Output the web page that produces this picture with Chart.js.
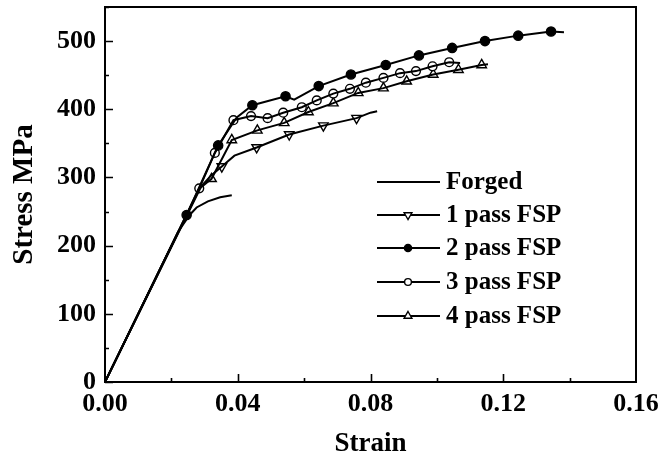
<!DOCTYPE html>
<html>
<head>
    <title>Stress Strain Curves</title>
    <script src="https://cdn.jsdelivr.net/npm/chart.js"></script>
    <style>
        body { margin: 0; background: #fff; }
        #wrap { width: 662px; height: 460px; }
    </style>
</head>
<body>
    <div id="wrap"><canvas id="ssChart" width="662" height="460"></canvas></div>

    <script>
        // values
        const forgedStrain = [0, 0.022, 0.0255, 0.0276, 0.031, 0.0347, 0.0382];
        const forgedStress = [0, 220, 245, 256, 265, 271, 274];

        const pass1Strain = [0, 0.029, 0.032, 0.0352, 0.039, 0.0457, 0.0555, 0.0658, 0.0758, 0.080, 0.082];
        const pass1Stress = [0, 287, 303, 316, 332, 344, 363, 376, 387, 395, 397];
        const pass1MarkStrain = [0.0352, 0.0457, 0.0555, 0.0658, 0.0758];
        const pass1MarkStress = [316, 344, 363, 376, 387];

        const pass2Strain = [0, 0.0246, 0.0341, 0.0397, 0.0444, 0.0544, 0.057, 0.0644, 0.0741, 0.0846, 0.0946, 0.1046, 0.1145, 0.1245, 0.1344, 0.1383];
        const pass2Stress = [0, 245, 347, 388, 406, 419, 414, 434, 451, 465, 479, 490, 500, 508, 514, 513];
        const pass2MarkStrain = [0.0246, 0.0341, 0.0444, 0.0544, 0.0644, 0.0741, 0.0846, 0.0946, 0.1046, 0.1145, 0.1245, 0.1344];
        const pass2MarkStress = [245, 347, 406, 419, 434, 451, 465, 479, 490, 500, 508, 514];

        const pass3Strain = [0, 0.0284, 0.0331, 0.0387, 0.044, 0.049, 0.0537, 0.0593, 0.0638, 0.0688, 0.0738, 0.0786, 0.0839, 0.0889, 0.0937, 0.0987, 0.1037, 0.107];
        const pass3Stress = [0, 284, 336, 384, 390, 387, 395, 403, 413, 423, 430, 439, 446, 453, 456, 463, 469, 468];
        const pass3MarkStrain = [0.0284, 0.0331, 0.0387, 0.044, 0.049, 0.0537, 0.0593, 0.0638, 0.0688, 0.0738, 0.0786, 0.0839, 0.0889, 0.0937, 0.0987, 0.1037];
        const pass3MarkStress = [284, 336, 384, 390, 387, 395, 403, 413, 423, 430, 439, 446, 453, 456, 463, 469];

        const pass4Strain = [0, 0.0285, 0.0321, 0.0382, 0.0459, 0.054, 0.0613, 0.0688, 0.0763, 0.0839, 0.0909, 0.0989, 0.1065, 0.1135, 0.1154];
        const pass4Stress = [0, 284, 298, 355, 369, 380, 396, 409, 424, 431, 441, 451, 458, 465, 466];
        const pass4MarkStrain = [0.0321, 0.0382, 0.0459, 0.054, 0.0613, 0.0688, 0.0763, 0.0839, 0.0909, 0.0989, 0.1065, 0.1135];
        const pass4MarkStress = [298, 355, 369, 380, 396, 409, 424, 431, 441, 451, 458, 465];

        const seriesNames = ["Forged", "1 pass FSP", "2 pass FSP", "3 pass FSP", "4 pass FSP"];
        const xTicks = [0, 0.04, 0.08, 0.12, 0.16];
        const yTicks = [0, 100, 200, 300, 400, 500];

        const FONT = "'Liberation Serif', 'Times New Roman', serif";

        function pts(xs, ys) {
            return xs.map((x, i) => ({ x: x, y: ys[i] }));
        }

        // marker look per series (index into seriesNames)
        const markerStyle = [
            null,
            { pointStyle: "triangle", rotation: 180, radius: 5.5, fill: "#fff" },
            { pointStyle: "circle", rotation: 0, radius: 4.6, fill: "#000" },
            { pointStyle: "circle", rotation: 0, radius: 4.4, fill: "#fff" },
            { pointStyle: "triangle", rotation: 0, radius: 5.5, fill: "#fff" },
        ];

        function curve(data) {
            return {
                data: data,
                showLine: true,
                borderColor: "#000",
                borderWidth: 2,
                pointRadius: 0,
                tension: 0,
                fill: false,
            };
        }

        function marks(data, idx) {
            const m = markerStyle[idx];
            return {
                data: data,
                showLine: false,
                pointStyle: m.pointStyle,
                pointRotation: m.rotation,
                pointRadius: m.radius,
                pointBackgroundColor: m.fill,
                pointBorderColor: "#000",
                pointBorderWidth: 1.4,
            };
        }

        const datasets = [
            curve(pts(forgedStrain, forgedStress)),
            curve(pts(pass1Strain, pass1Stress)),
            curve(pts(pass2Strain, pass2Stress)),
            curve(pts(pass3Strain, pass3Stress)),
            curve(pts(pass4Strain, pass4Stress)),
            marks(pts(pass1MarkStrain, pass1MarkStress), 1),
            marks(pts(pass2MarkStrain, pass2MarkStress), 2),
            marks(pts(pass3MarkStrain, pass3MarkStress), 3),
            marks(pts(pass4MarkStrain, pass4MarkStress), 4),
        ];

        // frame, inward ticks and the legend
        const framePlugin = {
            id: "frame",
            afterDraw(chart) {
                const ctx = chart.ctx;
                const a = chart.chartArea;
                const xs = chart.scales.x, ys = chart.scales.y;
                ctx.save();
                ctx.strokeStyle = "#000";
                ctx.lineWidth = 2;
                ctx.strokeRect(a.left, a.top, a.right - a.left, a.bottom - a.top);

                ctx.lineWidth = 1.6;
                ctx.beginPath();
                for (let v = 0; v <= 550; v += 50) {
                    const y = Math.round(ys.getPixelForValue(v)) + 0.5;
                    const len = v % 100 === 0 ? 8 : 4;
                    ctx.moveTo(a.left, y);
                    ctx.lineTo(a.left + len, y);
                }
                for (let k = 1; k < 8; k++) {
                    const x = Math.round(xs.getPixelForValue(k * 0.02)) + 0.5;
                    const len = k % 2 === 0 ? 8 : 4;
                    ctx.moveTo(x, a.bottom);
                    ctx.lineTo(x, a.bottom - len);
                }
                ctx.stroke();

                // legend
                const rows = [182, 215, 248, 282, 316];
                ctx.font = "bold 25px " + FONT;
                ctx.textBaseline = "middle";
                ctx.textAlign = "left";
                ctx.fillStyle = "#000";
                seriesNames.forEach((name, i) => {
                    const y = rows[i];
                    ctx.lineWidth = 2;
                    ctx.beginPath();
                    ctx.moveTo(377, y);
                    ctx.lineTo(440, y);
                    ctx.stroke();
                    const m = markerStyle[i];
                    if (m) {
                        ctx.fillStyle = m.fill;
                        ctx.lineWidth = 1.4;
                        Chart.helpers.drawPoint(ctx, {
                            pointStyle: m.pointStyle,
                            rotation: m.rotation,
                            radius: m.radius - 1,
                            borderWidth: 1.4,
                        }, 408, y);
                    }
                    ctx.fillStyle = "#000";
                    ctx.fillText(name, 446, y + 1);
                });
                ctx.restore();
            },
        };

        const ctx = document.getElementById("ssChart").getContext("2d");
        const ssChart = new Chart(ctx, {
            type: "scatter",
            data: { datasets: datasets },
            plugins: [framePlugin],
            options: {
                responsive: false,
                animation: false,
                layout: { padding: { top: 7, right: 26, left: 0, bottom: 0 } },
                plugins: {
                    legend: { display: false },
                    tooltip: { enabled: false },
                },
                scales: {
                    x: {
                        type: "linear",
                        min: 0,
                        max: 0.16,
                        grid: { display: false, drawTicks: false },
                        border: { display: false },
                        afterBuildTicks: (s) => { s.ticks = xTicks.map(v => ({ value: v })); },
                        afterFit: (s) => { s.height = 78; s.paddingLeft = 0; s.paddingRight = 0; },
                        ticks: {
                            padding: 7,
                            color: "#000",
                            font: { family: FONT, size: 26, weight: "bold" },
                            maxRotation: 0,
                            callback: (v) => v.toFixed(2),
                        },
                        title: {
                            display: true,
                            text: "Strain",
                            color: "#000",
                            font: { family: FONT, size: 27, weight: "bold" },
                            padding: { top: 0, bottom: 0 },
                        },
                    },
                    y: {
                        type: "linear",
                        min: 0,
                        max: 550,
                        grid: { display: false, drawTicks: false },
                        border: { display: false },
                        afterBuildTicks: (s) => { s.ticks = yTicks.map(v => ({ value: v })); },
                        afterFit: (s) => { s.width = 105; s.paddingTop = 0; s.paddingBottom = 0; },
                        ticks: {
                            padding: 9,
                            color: "#000",
                            font: { family: FONT, size: 26, weight: "bold" },
                        },
                        title: {
                            display: true,
                            text: "Stress MPa",
                            color: "#000",
                            font: { family: FONT, size: 29, weight: "bold" },
                            padding: { top: 7, bottom: 0 },
                        },
                    },
                },
            },
        });
    </script>
</body>
</html>
